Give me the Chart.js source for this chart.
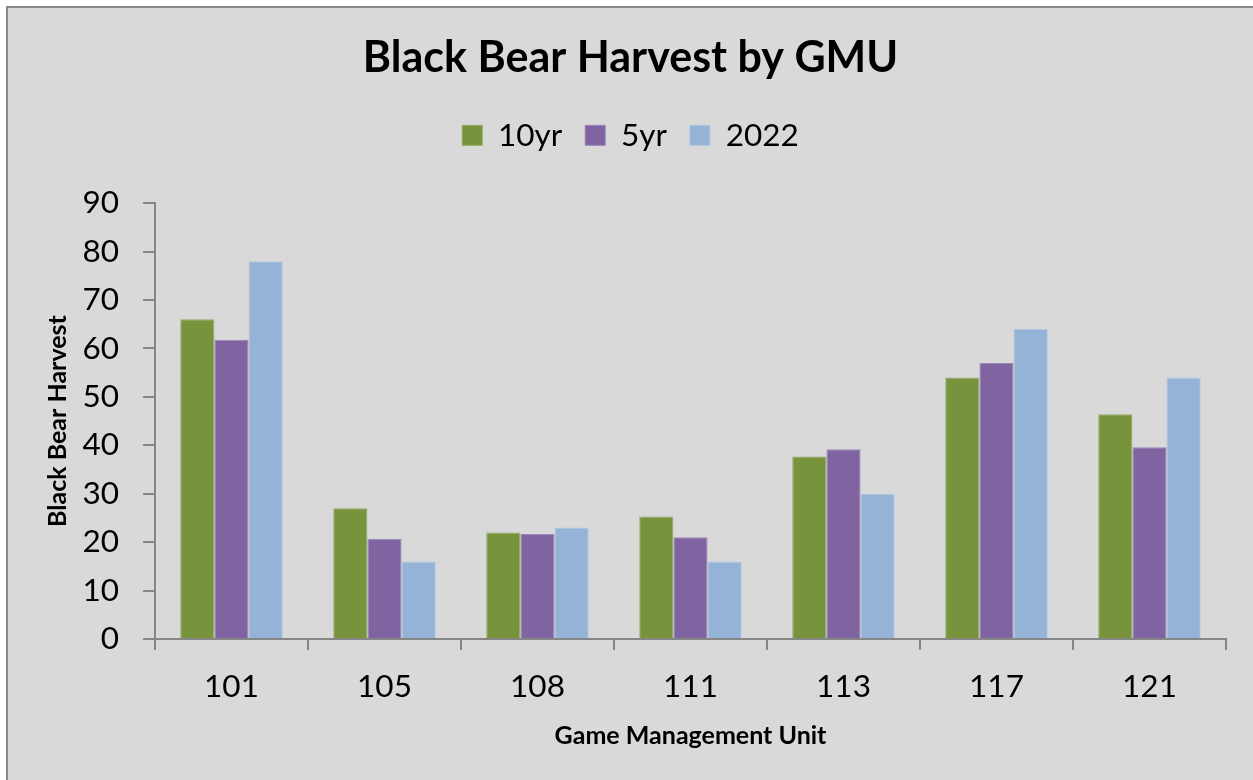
<!DOCTYPE html>
<html>
<head>
<meta charset="utf-8">
<script src="https://cdn.jsdelivr.net/npm/chart.js@4/dist/chart.umd.min.js"></script>
<style>
  html, body { margin: 0; padding: 0; background: #ffffff; overflow: hidden; }
  #frame { position: absolute; left: 6px; top: 6px; width: 1300px; height: 800px;
           background: #d9d9d9; border: 2px solid #898989; }
  #wrap { position: absolute; left: 0; top: 0; width: 1253px; height: 780px; }
</style>
</head>
<body>
<div id="frame"></div>
<div id="wrap"><canvas id="c" width="1253" height="780"></canvas></div>
<script>
const categories = ['101', '105', '108', '111', '113', '117', '121'];
const seriesNames = ['10yr', '5yr', '2022'];
const tenYear = [66, 27, 22, 25.3, 37.7, 54, 46.4];
const fiveYear = [61.8, 20.7, 21.7, 21, 39.2, 57, 39.6];
const y2022 = [78, 16, 23, 16, 30, 64, 54];
const yTicks = [0, 10, 20, 30, 40, 50, 60, 70, 80, 90];

const FONT = 'Lato, "Open Sans", sans-serif';
const AX = '#868686';

const legendGap = {
  id: 'legendGap',
  beforeInit(chart) {
    const lg = chart.legend;
    if (!lg) return;
    const orig = lg.fit;
    lg.fit = function () { orig.apply(this, arguments); this.height += 42; };
  }
};

new Chart(document.getElementById('c'), {
  type: 'bar',
  plugins: [legendGap],
  data: {
    labels: categories,
    datasets: [
      { label: seriesNames[0], data: tenYear, backgroundColor: '#77933c', borderColor: '#92aa62', borderWidth: 1 },
      { label: seriesNames[1], data: fiveYear, backgroundColor: '#8064a2', borderColor: '#9a86b6', borderWidth: 1 },
      { label: seriesNames[2], data: y2022, backgroundColor: '#95b3d7', borderColor: '#b0c7e3', borderWidth: 1 }
    ]
  },
  options: {
    responsive: false,
    animation: false,
    devicePixelRatio: 1,
    layout: { padding: { left: 8, right: 0, top: 0, bottom: 0 } },
    datasets: { bar: { barPercentage: 1.0, categoryPercentage: 0.67 } },
    plugins: {
      title: {
        display: true,
        text: 'Black Bear Harvest by GMU',
        color: '#000',
        font: { family: FONT, size: 43, weight: 'bold' },
        padding: { top: 32, bottom: 13 }
      },
      legend: {
        display: true,
        labels: {
          color: '#000',
          font: { family: FONT, size: 31.5 },
          boxWidth: 20, boxHeight: 20,
          padding: 23
        }
      },
      tooltip: { enabled: false }
    },
    scales: {
      x: {
        grid: { display: true, offset: true, drawOnChartArea: false, drawTicks: true, tickLength: 11, color: AX, lineWidth: 2 },
        border: { display: true, color: AX, width: 2 },
        ticks: { color: '#000', font: { family: FONT, size: 31.5 }, padding: 18, maxRotation: 0 },
        title: { display: true, text: 'Game Management Unit', color: '#000',
                 font: { family: FONT, size: 25, weight: 'bold' }, padding: { top: 0, bottom: 29 } },
        afterFit: (s) => { s.height = 141; }
      },
      y: {
        min: 0, max: 90,
        afterBuildTicks: (s) => { s.ticks = yTicks.map(v => ({ value: v })); },
        grid: { display: true, drawOnChartArea: false, drawTicks: true, tickLength: 12, color: AX, lineWidth: 2 },
        border: { display: true, color: AX, width: 2 },
        ticks: { color: '#000', font: { family: FONT, size: 31.5 }, padding: 24 },
        title: { display: true, text: 'Black Bear Harvest', color: '#000',
                 font: { family: FONT, size: 25, weight: 'bold' }, padding: { top: 35, bottom: 0 } },
        afterFit: (s) => { s.width = 147; }
      },
      yR: {
        position: 'right',
        display: true,
        grid: { display: false },
        border: { display: false },
        ticks: { display: false },
        afterFit: (s) => { s.width = 27; }
      }
    }
  }
});
</script>
</body>
</html>
